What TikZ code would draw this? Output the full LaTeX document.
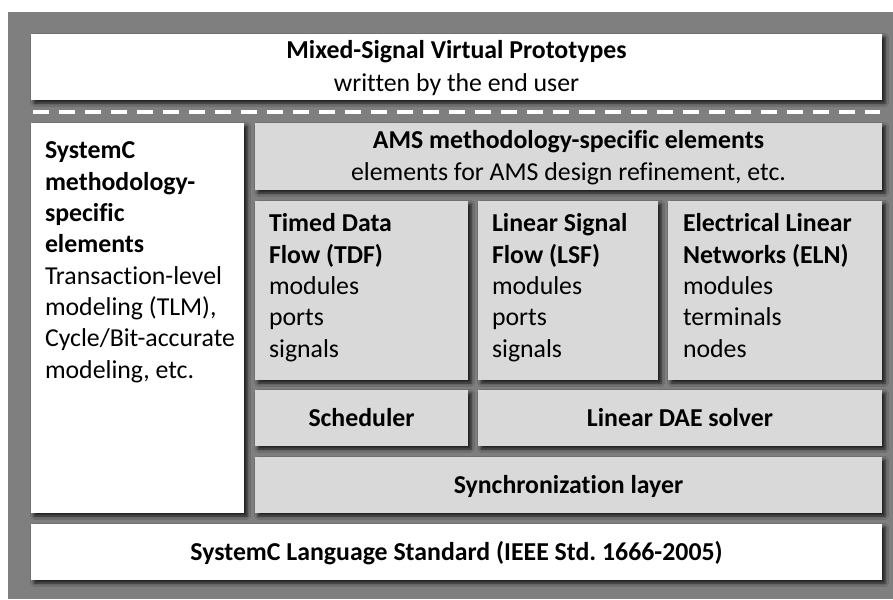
\documentclass[tikz,border=0pt]{standalone}
\usepackage{fontspec}
\setmainfont{Carlito}[Ligatures=NoCommon]
\frenchspacing
\usetikzlibrary{shadows.blur}
\definecolor{frame}{HTML}{7F7F7F}
\definecolor{layer}{HTML}{D9D9D9}
\begin{document}
\begin{tikzpicture}[x=1pt,y=-1pt,
  every node/.style={inner sep=0pt, outer sep=0pt},
  blk/.style={anchor=north west, blur shadow={shadow xshift=3pt, shadow yshift=-3pt, shadow blur radius=3.5pt, shadow opacity=80}},
  whitebox/.style={blk, fill=white},
  greybox/.style={blk, fill=layer},
  txt/.style={font=\fontsize{25.8}{31.3}\selectfont, align=left, anchor=base west},
  ctxt/.style={font=\fontsize{25.8}{31.3}\selectfont, align=center, anchor=base},
  mid/.style={ctxt, yshift=-8.5pt}
]
\useasboundingbox (0,0) rectangle (893,599);
\fill[white] (0,0) rectangle (893,599);
\fill[frame] (8,12) rectangle (893,599);

% top layer
\node[whitebox, minimum width=851pt, minimum height=66pt] (vp) at (31,34) {};
\node[ctxt] (vpt) at (456.5,59) {\textbf{Mixed-Signal Virtual Prototypes}};
\node[ctxt] (vps) at (456.5,92) {written by the end user};

\coordinate (dl) at (33,112);
\coordinate (dr) at (880,112);
\draw[white, line width=4pt, dash pattern=on 16pt off 10pt] (dl) -- (dr);

% left column (base anchor = last line)
\node[whitebox, minimum width=213pt, minimum height=390pt] (scm) at (31,123) {};
\node[txt] (scmt) at (45,378) {\textbf{SystemC}\\\textbf{methodology-}\\\textbf{specific}\\\textbf{elements}\\Transaction-level\\modeling (TLM),\\Cycle/Bit-accurate\\modeling, etc.};

% AMS layer
\node[greybox, minimum width=627pt, minimum height=67pt] (ams) at (255,123) {};
\node[ctxt] (amst) at (568.5,148) {\textbf{AMS methodology-specific elements}};
\node[ctxt] (amss) at (568.5,180) {elements for AMS design refinement, etc.};

% models of computation
\node[greybox, minimum width=213pt, minimum height=179pt] (tdf) at (255,201) {};
\node[txt] (tdft) at (269,357) {\textbf{Timed Data}\\\textbf{Flow (TDF)}\\modules\\ports\\signals};
\node[greybox, minimum width=180pt, minimum height=179pt] (lsf) at (478,201) {};
\node[txt] (lsft) at (492,357) {\textbf{Linear Signal}\\\textbf{Flow (LSF)}\\modules\\ports\\signals};
\node[greybox, minimum width=214pt, minimum height=179pt] (eln) at (668,201) {};
\node[txt] (elnt) at (683,357) {\textbf{Electrical Linear}\\\textbf{Networks (ELN)}\\modules\\terminals\\nodes};

% solvers
\node[greybox, minimum width=213pt, minimum height=56pt] (sch) at (255,390) {};
\node[mid] (scht) at (sch.center) {\textbf{Scheduler}};
\node[greybox, minimum width=404pt, minimum height=56pt] (dae) at (478,390) {};
\node[mid] (daet) at (dae.center) {\textbf{Linear DAE solver}};

% synchronization
\node[greybox, minimum width=627pt, minimum height=56pt] (syn) at (255,457) {};
\node[mid] (synt) at (syn.center) {\textbf{Synchronization layer}};

% language standard
\node[whitebox, minimum width=851pt, minimum height=56pt] (std) at (31,524) {};
\node[mid] (stdt) at (std.center) {\textbf{SystemC Language Standard (IEEE Std. 1666-2005)}};
\end{tikzpicture}
\end{document}
